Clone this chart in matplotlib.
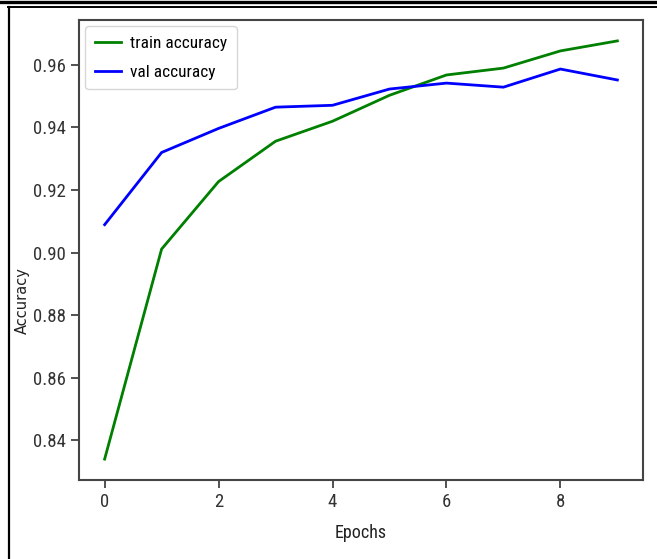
import matplotlib
matplotlib.use("Agg")
import matplotlib.pyplot as plt
from matplotlib.lines import Line2D

epochs = list(range(10))
train_acc = [0.8339, 0.9011, 0.9227, 0.9356, 0.9420, 0.9503, 0.9568, 0.9590, 0.9645, 0.9677]
val_acc = [0.9089, 0.9320, 0.9397, 0.9465, 0.9471, 0.9523, 0.9542, 0.9529, 0.9587, 0.9552]
x_ticks = [0, 2, 4, 6, 8]
y_ticks = [0.84, 0.86, 0.88, 0.90, 0.92, 0.94, 0.96]
y_tick_labels = ['0.84', '0.86', '0.88', '0.90', '0.92', '0.94', '0.96']

W, H = 657, 559
fig = plt.figure(figsize=(W / 100, H / 100), dpi=100)
narrow = ['Roboto Condensed', 'DejaVu Sans']

ax = fig.add_axes([79 / W, 1 - 480 / H, (643 - 79) / W, (480 - 20) / H])
ax.plot(epochs, train_acc, color='green', lw=2, label='train accuracy')
ax.plot(epochs, val_acc, color='blue', lw=2, label='val accuracy')

ax.set_xticks(x_ticks)
ax.set_yticks(y_ticks)
ax.set_yticklabels(y_tick_labels)
for lab in ax.get_xticklabels() + ax.get_yticklabels():
    lab.set_family(narrow)
    lab.set_fontweight('normal')
    lab.set_fontsize(13.5)
    lab.set_color('#222222')
ax.tick_params(length=6, width=1.2, colors='#333333')
for sp in ax.spines.values():
    sp.set_linewidth(1.5)
    sp.set_color('#444444')

ax.set_xlabel('Epochs', family=narrow, fontweight='normal', fontsize=13, color='#222222')
ax.xaxis.set_label_coords(0.5, -0.095)
ax.set_ylabel('Accuracy', family='DejaVu Sans', fontsize=10.5, color='#222222')
ax.yaxis.set_label_coords(-0.087, 0.39)

leg = ax.legend(loc='upper left', prop={'family': narrow, 'size': 12.5, 'weight': 'normal'},
                handlelength=1.5, handletextpad=0.55, labelspacing=0.8,
                borderpad=0.55, borderaxespad=0.35)

# screenshot frame lines
fig.add_artist(Line2D([0, 1], [1 - 1.5 / H, 1 - 1.5 / H], color='black', lw=2.4,
                      transform=fig.transFigure))
fig.add_artist(Line2D([8 / W, 1], [1 - 7 / H, 1 - 7 / H], color='black', lw=1.4,
                      transform=fig.transFigure))
fig.add_artist(Line2D([8.5 / W, 8.5 / W], [0, 1 - 7 / H], color='black', lw=1.6,
                      transform=fig.transFigure))

fig.savefig('out.png', dpi=100)
